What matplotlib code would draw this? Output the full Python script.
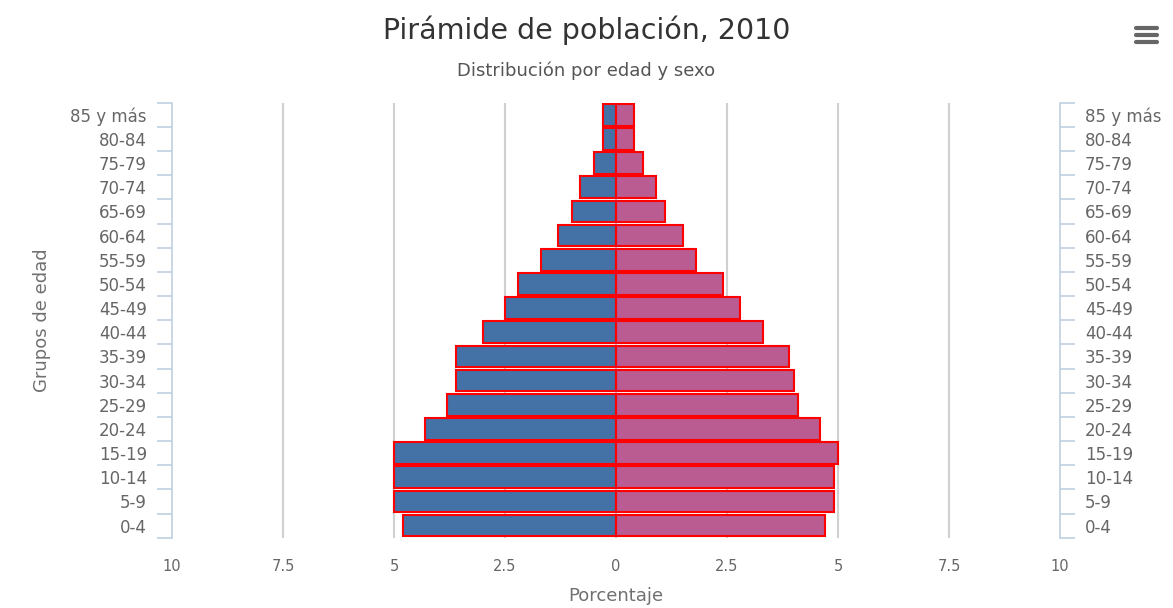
import numpy as np
import matplotlib
matplotlib.use("Agg")
from matplotlib import pyplot as plt
from matplotlib.lines import Line2D

# age groups, bottom to top
grupos = ["0-4", "5-9", "10-14", "15-19", "20-24", "25-29", "30-34", "35-39",
          "40-44", "45-49", "50-54", "55-59", "60-64", "65-69", "70-74",
          "75-79", "80-84", "85 y más"]
hombres = [4.8, 5.0, 5.0, 5.0, 4.3, 3.8, 3.6, 3.6, 3.0, 2.5, 2.2, 1.7, 1.3,
           1.0, 0.8, 0.5, 0.3, 0.3]
mujeres = [4.7, 4.9, 4.9, 5.0, 4.6, 4.1, 4.0, 3.9, 3.3, 2.8, 2.4, 1.8, 1.5,
           1.1, 0.9, 0.6, 0.4, 0.4]
xticks = [-10, -7.5, -5, -2.5, 0, 2.5, 5, 7.5, 10]
xticklabels = ["10", "7.5", "5", "2.5", "0", "2.5", "5", "7.5", "10"]

AXIS_COL = "#C0D0E0"
TXT = "#666666"

fig = plt.figure(figsize=(11.73, 6.08), dpi=100)
ax = fig.add_axes([172 / 1173, 1 - 537.7 / 608, 888 / 1173, 435 / 608])

y = np.arange(len(grupos))
ax.barh(y, -np.array(hombres), height=0.9, color="#4471A6",
        edgecolor="#FF0000", linewidth=1.5, zorder=3)
ax.barh(y, mujeres, height=0.9, color="#BA5B91",
        edgecolor="#FF0000", linewidth=1.5, zorder=3)

ax.set_xlim(-10, 10)
ax.set_ylim(-0.5, len(grupos) - 0.5)

# vertical grid
for g in xticks[1:-1]:
    ax.axvline(g, color="#D0D0D0", linewidth=1.5, zorder=1)

ax.set_xticks(xticks)
ax.set_xticklabels(xticklabels)
ax.tick_params(axis="x", length=0, pad=15, labelsize=10.5, labelcolor=TXT)

for s in ["top", "bottom", "left", "right"]:
    ax.spines[s].set_visible(False)

# left category axis
ax.spines["left"].set_visible(True)
ax.spines["left"].set_color(AXIS_COL)
ax.spines["left"].set_linewidth(1.2)
ax.set_yticks(y)
ax.set_yticklabels(grupos)
ax.set_yticks(np.arange(-0.5, len(grupos)), minor=True)
ax.tick_params(axis="y", which="major", length=0, pad=18, labelsize=12,
               labelcolor=TXT)
ax.tick_params(axis="y", which="minor", length=11, width=1.2,
               color=AXIS_COL)

# right category axis
ax2 = ax.twinx()
ax2.set_ylim(ax.get_ylim())
for s in ["top", "bottom", "left"]:
    ax2.spines[s].set_visible(False)
ax2.spines["right"].set_color(AXIS_COL)
ax2.spines["right"].set_linewidth(1.2)
ax2.set_yticks(y)
ax2.set_yticklabels(grupos)
ax2.set_yticks(np.arange(-0.5, len(grupos)), minor=True)
ax2.tick_params(axis="y", which="major", length=0, pad=18, labelsize=12,
                labelcolor=TXT)
ax2.tick_params(axis="y", which="minor", length=11, width=1.2,
                color=AXIS_COL)

ax.set_xlabel("Porcentaje", fontsize=13, color="#707070", labelpad=10)
ax.set_ylabel("Grupos de edad", fontsize=13, color="#707070", labelpad=14)

fig.text(0.5, 1 - 30 / 608, "Pirámide de población, 2010", ha="center",
         va="center", fontsize=20.5, color="#333333")
fig.text(0.5, 1 - 71 / 608, "Distribución por edad y sexo", ha="center",
         va="center", fontsize=13, color="#555555")

# menu icon
for yy in [28, 35, 42]:
    fig.add_artist(Line2D([1136 / 1173, 1157 / 1173],
                          [1 - yy / 608, 1 - yy / 608],
                          color="#666666", linewidth=3,
                          solid_capstyle="round"))

fig.savefig("out.png", dpi=100)
